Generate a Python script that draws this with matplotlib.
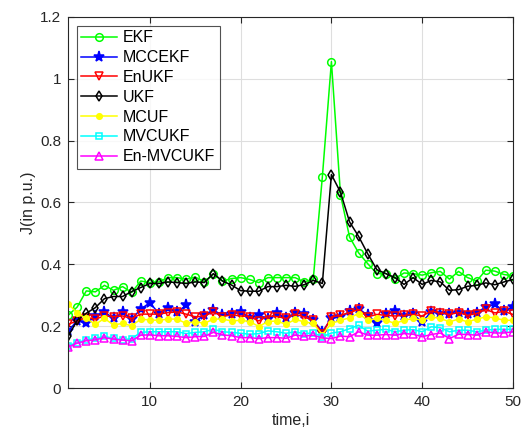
import matplotlib
matplotlib.use("Agg")
import matplotlib.pyplot as plt
import numpy as np

plt.rcParams['font.family'] = ['Liberation Sans', 'DejaVu Sans']

t = list(range(1, 51))

ekf = [0.235, 0.262, 0.314, 0.311, 0.332, 0.316, 0.328, 0.309, 0.346, 0.341,
       0.343, 0.357, 0.357, 0.352, 0.359, 0.344, 0.368, 0.346, 0.354, 0.357,
       0.351, 0.341, 0.357, 0.357, 0.357, 0.357, 0.343, 0.352, 0.682, 1.055,
       0.625, 0.488, 0.437, 0.402, 0.370, 0.370, 0.354, 0.372, 0.370, 0.365,
       0.373, 0.377, 0.352, 0.377, 0.357, 0.346, 0.381, 0.378, 0.367, 0.363]

mccekf = [0.185, 0.217, 0.210, 0.232, 0.246, 0.225, 0.245, 0.223, 0.255, 0.276,
          0.241, 0.260, 0.245, 0.268, 0.215, 0.237, 0.252, 0.235, 0.239, 0.246,
          0.228, 0.235, 0.223, 0.242, 0.225, 0.243, 0.239, 0.219, 0.182, 0.225,
          0.230, 0.248, 0.257, 0.235, 0.211, 0.241, 0.248, 0.233, 0.238, 0.214,
          0.246, 0.241, 0.241, 0.243, 0.241, 0.244, 0.262, 0.271, 0.248, 0.262]

enukf = [0.206, 0.217, 0.228, 0.223, 0.233, 0.231, 0.233, 0.225, 0.239, 0.239,
         0.239, 0.244, 0.246, 0.239, 0.230, 0.233, 0.246, 0.231, 0.237, 0.233,
         0.231, 0.217, 0.233, 0.231, 0.225, 0.239, 0.230, 0.219, 0.176, 0.230,
         0.235, 0.244, 0.254, 0.230, 0.238, 0.235, 0.233, 0.235, 0.238, 0.233,
         0.249, 0.243, 0.238, 0.244, 0.235, 0.241, 0.254, 0.243, 0.248, 0.238]

ukf = [0.167, 0.219, 0.242, 0.260, 0.289, 0.296, 0.296, 0.312, 0.325, 0.338,
       0.338, 0.343, 0.341, 0.338, 0.343, 0.341, 0.370, 0.346, 0.333, 0.315,
       0.313, 0.313, 0.328, 0.328, 0.332, 0.329, 0.334, 0.348, 0.338, 0.690,
       0.633, 0.537, 0.490, 0.434, 0.383, 0.370, 0.357, 0.335, 0.357, 0.335,
       0.348, 0.343, 0.316, 0.318, 0.329, 0.332, 0.340, 0.334, 0.343, 0.351]

mcuf = [0.273, 0.242, 0.225, 0.206, 0.225, 0.204, 0.209, 0.201, 0.223, 0.220,
        0.219, 0.223, 0.223, 0.209, 0.215, 0.209, 0.223, 0.223, 0.217, 0.219,
        0.215, 0.199, 0.215, 0.217, 0.206, 0.222, 0.214, 0.209, 0.173, 0.209,
        0.219, 0.227, 0.241, 0.219, 0.225, 0.219, 0.209, 0.219, 0.225, 0.219,
        0.230, 0.225, 0.214, 0.223, 0.214, 0.223, 0.230, 0.227, 0.219, 0.219]

mvcukf = [0.137, 0.147, 0.156, 0.161, 0.167, 0.161, 0.156, 0.160, 0.180, 0.182,
          0.182, 0.182, 0.182, 0.176, 0.180, 0.182, 0.190, 0.182, 0.180, 0.177,
          0.174, 0.176, 0.185, 0.182, 0.177, 0.182, 0.176, 0.178, 0.166, 0.178,
          0.182, 0.192, 0.203, 0.184, 0.187, 0.190, 0.182, 0.187, 0.189, 0.182,
          0.198, 0.195, 0.182, 0.187, 0.187, 0.182, 0.187, 0.190, 0.190, 0.190]

en_mvcukf = [0.133, 0.145, 0.153, 0.156, 0.163, 0.158, 0.155, 0.153, 0.171, 0.172,
             0.169, 0.169, 0.167, 0.163, 0.166, 0.167, 0.180, 0.172, 0.169, 0.163,
             0.163, 0.160, 0.163, 0.163, 0.161, 0.171, 0.168, 0.171, 0.162, 0.160,
             0.168, 0.166, 0.182, 0.171, 0.171, 0.173, 0.171, 0.176, 0.174, 0.166,
             0.173, 0.178, 0.160, 0.174, 0.173, 0.171, 0.182, 0.178, 0.178, 0.182]

series = [
    ("EKF", ekf, (0, 1, 0), 'o', 'none', 5.5),
    ("MCCEKF", mccekf, (0, 0, 1), '*', (0, 0, 1), 8),
    ("EnUKF", enukf, (1, 0, 0), 'v', 'none', 6),
    ("UKF", ukf, (0, 0, 0), 'd', 'none', 5.5),
    ("MCUF", mcuf, (1, 1, 0), 'o', (1, 1, 0), 4),
    ("MVCUKF", mvcukf, (0, 1, 1), 's', 'none', 5),
    ("En-MVCUKF", en_mvcukf, (1, 0, 1), '^', 'none', 6),
]

fig = plt.figure(figsize=(5.24, 4.42), dpi=100)
ax = fig.add_axes([0.130, 0.122, 0.849, 0.840])

for name, vals, col, mk, mfc, ms in series:
    ax.plot(t, vals, color=col, marker=mk, markerfacecolor=mfc,
            markeredgecolor=col, markersize=ms, linewidth=1.1,
            markeredgewidth=1.1, label=name)

ax.set_xlim(1, 50)
ax.set_ylim(0, 1.2)
ax.set_xticks([10, 20, 30, 40, 50])
ax.set_yticks([0, 0.2, 0.4, 0.6, 0.8, 1.0, 1.2])
ax.set_yticklabels(["0", "0.2", "0.4", "0.6", "0.8", "1", "1.2"])
ax.grid(True, color=(0.87, 0.87, 0.87), linewidth=0.8)
ax.set_axisbelow(True)
ax.tick_params(direction='in', length=4, labelsize=11, colors=(0.15, 0.15, 0.15),
               top=True, right=True, pad=5)
for sp in ax.spines.values():
    sp.set_color((0.15, 0.15, 0.15))
    sp.set_linewidth(0.8)

ax.set_xlabel("time,i", fontsize=11.5, color=(0.15, 0.15, 0.15), labelpad=3)
ax.set_ylabel("J(in p.u.)", fontsize=11.5, color=(0.15, 0.15, 0.15), labelpad=3)

leg = ax.legend(loc='upper left', bbox_to_anchor=(0.019, 0.976), fontsize=11.5,
                frameon=True, fancybox=False, edgecolor=(0.15, 0.15, 0.15),
                borderpad=0.3, labelspacing=0.3, handlelength=2.2,
                handletextpad=0.4, borderaxespad=0.0)
leg.get_frame().set_linewidth(0.8)

fig.savefig("out.png", dpi=100)
